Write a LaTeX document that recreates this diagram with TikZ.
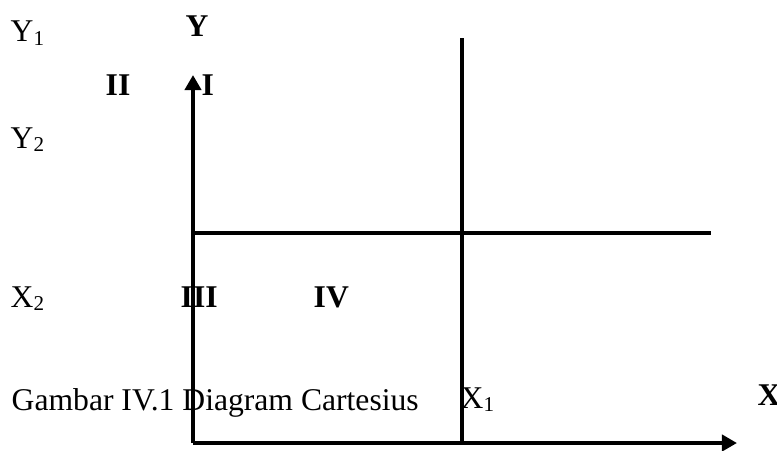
\documentclass[tikz,border=0pt]{standalone}
\usepackage{fontspec}
\setmainfont{Liberation Serif}
\usepackage{tikz}
\usetikzlibrary{arrows.meta, positioning}

\tikzset{
  axisline/.style={line width=1.3pt, -{Triangle[length=4.3pt, width=4.6pt]}},
  gridline/.style={line width=1.3pt},
  lbl/.style={anchor=base west, inner sep=0pt, font=\fontsize{9}{11}\selectfont},
  quad/.style={lbl, font=\fontsize{9}{11}\selectfont\bfseries}
}

\begin{document}
\begin{tikzpicture}
  \useasboundingbox (0,0) rectangle (7.77,4.50);
  % axes
  \coordinate (O) at (1.93,0.07);
  \coordinate (ytip) at (1.93,3.75);
  \coordinate (xtip) at (7.37,0.07);
  \draw[axisline] (O) -- (ytip);
  \draw[axisline] (O) -- (xtip);
  % dividing lines
  \coordinate (vtop) at (4.62,4.12);
  \coordinate (vbot) at (4.62,0.07);
  \coordinate (hleft) at (1.93,2.17);
  \coordinate (hright) at (7.11,2.17);
  \draw[gridline] (vbot) -- (vtop);
  \draw[gridline] (hleft) -- (hright);
  % labels
  \node[quad] (ylab) at (1.85,4.13) {Y};
  \node[quad] (xlab) at (7.57,0.45) {X};
  \node[lbl] (y1) at (0.10,4.08) {Y\textsubscript{1}};
  \node[lbl] (y2) at (0.10,3.02) {Y\textsubscript{2}};
  \node[lbl] (x2) at (0.10,1.43) {X\textsubscript{2}};
  \node[lbl] (x1) at (4.60,0.42) {X\textsubscript{1}};
  \node[quad] (q2) at (1.05,3.55) {II};
  \node[quad] (q1) at (2.01,3.55) {I};
  \node[quad] (q3) at (1.80,1.43) {III};
  \node[quad] (q4) at (3.13,1.43) {IV};
  \node[lbl] (cap) at (0.11,0.40) {Gambar IV.1 Diagram Cartesius};
\end{tikzpicture}
\end{document}
